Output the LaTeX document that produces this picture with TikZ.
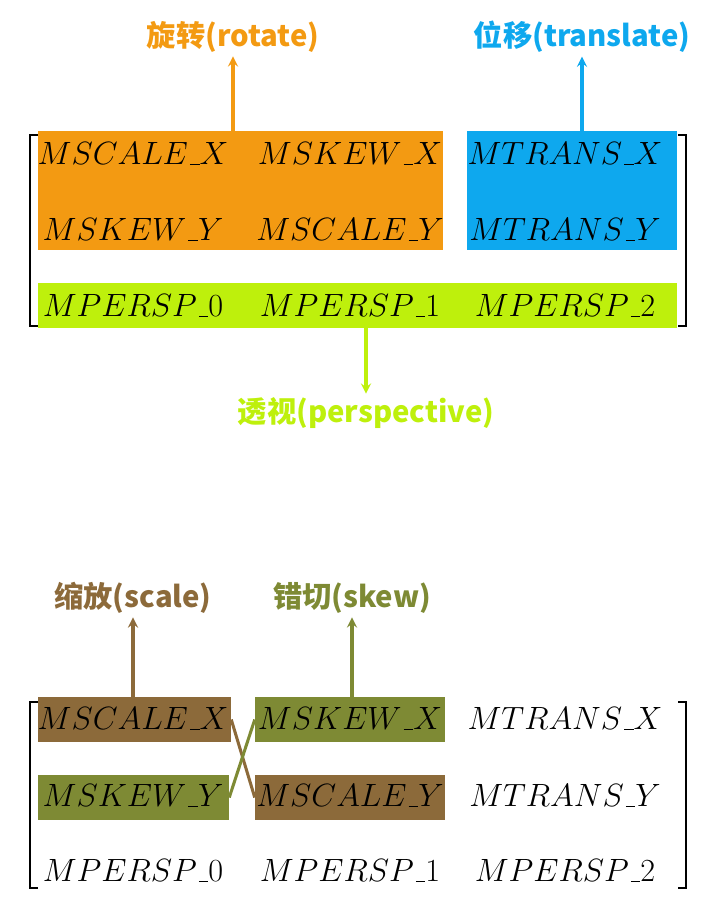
\RequirePackage{fix-cm}
\documentclass[tikz,border=0pt]{standalone}
\usepackage{fontspec}
\newfontfamily\cjk{Noto Sans CJK SC}
\usetikzlibrary{arrows}
\definecolor{rotOrange}{HTML}{F39A12}
\definecolor{transBlue}{HTML}{0EA8EE}
\definecolor{persGreen}{HTML}{BEF00C}
\definecolor{scaleBrown}{HTML}{8C6A3A}
\definecolor{skewOlive}{HTML}{7E8A34}
\newcommand\mus{\kern.06em\vbox{\hrule width.3em}}
\tikzstyle{entry} = [font=\fontsize{27.5}{33}\selectfont, inner sep=0pt]
\tikzstyle{hlbox} = [rectangle, inner sep=0pt, minimum height=1.35cm]
\tikzstyle{tagText} = [font=\cjk\bfseries\fontsize{25}{30}\selectfont, inner sep=0pt]
\tikzstyle{arrow} = [line width=2.8pt,->,>=stealth, shorten >=3pt]
\tikzstyle{bracket} = [line width=1.4pt, black]
\tikzstyle{cross} = [line width=2.6pt]

\begin{document}
\begin{tikzpicture}[x=0.03cm,y=-0.03cm]
\useasboundingbox (0,0) rectangle (700,901);

% top matrix: highlighted parts
\node (rotBox) [hlbox, fill=rotOrange, minimum width=12.15cm, minimum height=3.57cm] at (240.5,190.5) {};
\node (transBox) [hlbox, fill=transBlue, minimum width=6.3cm, minimum height=3.57cm] at (572,190.5) {};
\node (persBar) [hlbox, fill=persGreen, minimum width=19.17cm] at (357.5,305.5) {};

\node (t11) [entry] at (133,153) {$MSCALE\mus X$};
\node (t12) [entry] at (350,153) {$MSKEW\mus X$};
\node (t13) [entry] at (565,153) {$MTRANS\mus X$};
\node (t21) [entry] at (133,229) {$MSKEW\mus Y$};
\node (t22) [entry] at (350,229) {$MSCALE\mus Y$};
\node (t23) [entry] at (565,229) {$MTRANS\mus Y$};
\node (t31) [entry] at (133,305) {$MPERSP\mus 0$};
\node (t32) [entry] at (350,305) {$MPERSP\mus 1$};
\node (t33) [entry] at (565,305) {$MPERSP\mus 2$};

\draw [bracket] (38,135) -- (30,135) -- (30,326) -- (38,326);
\draw [bracket] (678,135) -- (686,135) -- (686,326) -- (678,326);

\node (rotTag) [tagText, text=rotOrange] at (233,37) {旋转(rotate)};
\node (transTag) [tagText, text=transBlue] at (582,37) {位移(translate)};
\node (persTag) [tagText, text=persGreen] at (366,413) {透视(perspective)};

\draw [arrow, rotOrange] (rotBox.north -| rotTag) -- (rotTag.south);
\draw [arrow, transBlue] (transBox.north -| transTag) -- (transTag.south);
\draw [arrow, persGreen] (persBar.south -| persTag) -- (persTag.north);

% bottom matrix: scale and skew
\node (scaleX) [hlbox, fill=scaleBrown, minimum width=5.79cm] at (134.5,719.5) {};
\node (skewX) [hlbox, fill=skewOlive, minimum width=5.7cm] at (350,719.5) {};
\node (skewY) [hlbox, fill=skewOlive, minimum width=5.73cm] at (133.5,797.5) {};
\node (scaleY) [hlbox, fill=scaleBrown, minimum width=5.7cm] at (350,797.5) {};

\node (b11) [entry] at (133,718) {$MSCALE\mus X$};
\node (b12) [entry] at (350,718) {$MSKEW\mus X$};
\node (b13) [entry] at (565,718) {$MTRANS\mus X$};
\node (b21) [entry] at (133,795) {$MSKEW\mus Y$};
\node (b22) [entry] at (350,795) {$MSCALE\mus Y$};
\node (b23) [entry] at (565,795) {$MTRANS\mus Y$};
\node (b31) [entry] at (133,870) {$MPERSP\mus 0$};
\node (b32) [entry] at (350,870) {$MPERSP\mus 1$};
\node (b33) [entry] at (565,870) {$MPERSP\mus 2$};

\draw [bracket] (38,702) -- (30,702) -- (30,888) -- (38,888);
\draw [bracket] (678,702) -- (686,702) -- (686,888) -- (678,888);

\draw [cross, scaleBrown] (scaleX.east) -- (scaleY.west);
\draw [cross, skewOlive] (skewY.east) -- (skewX.west);

\node (scaleTag) [tagText, text=scaleBrown] at (133,598) {缩放(scale)};
\node (skewTag) [tagText, text=skewOlive] at (352,598) {错切(skew)};

\draw [arrow, scaleBrown] (scaleX.north -| scaleTag) -- (scaleTag.south);
\draw [arrow, skewOlive] (skewX.north -| skewTag) -- (skewTag.south);
\end{tikzpicture}
\end{document}
